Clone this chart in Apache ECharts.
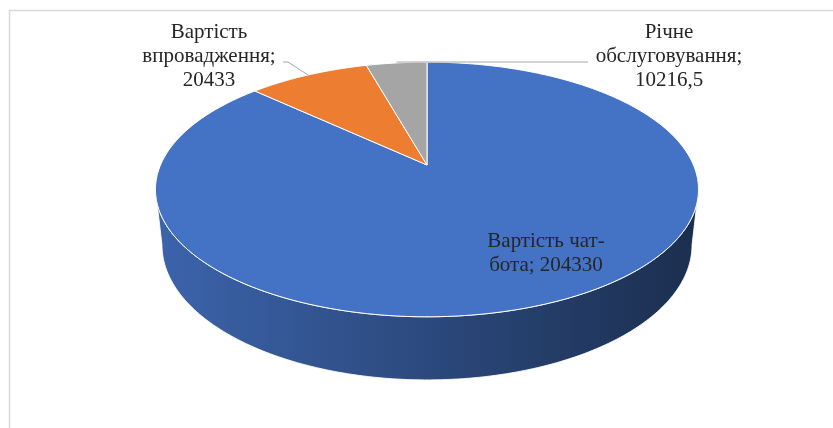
<!DOCTYPE html>
<html><head><meta charset="utf-8">
<script src="https://cdn.jsdelivr.net/npm/echarts@6/dist/echarts.min.js"></script>
<style>html,body{margin:0;padding:0;background:#fff}#c{width:833px;height:428px}</style>
</head><body><div id="c"></div><script>
// ---- data ----
const categories = ['Вартість чат-\nбота', 'Вартість\nвпровадження', 'Річне\nобслуговування'];
const separators = [' ', '\n', '\n'];
const values = [204330, 20433, 10216.5];
const colors = ['#4472c4', '#ed7d31', '#a5a5a5'];

// ---- layout (3D perspective of a cylinder) ----
const CX = 427, CY = 165, F = 1231, D = 4.62, PHI = 27.4 * Math.PI / 180, H = 0.237;
function projXZ(X, Z, y) {
  const yc = y * Math.cos(PHI) + Z * Math.sin(PHI);
  const zc = D + Z * Math.cos(PHI) - y * Math.sin(PHI);
  return [CX + F * X / zc, CY - F * yc / zc];
}
function proj(deg, y) {
  const t = deg * Math.PI / 180;
  return projXZ(Math.sin(t), Math.cos(t), y);
}
const silTop = 180 - Math.acos(Math.cos(PHI) / D) * 180 / Math.PI; // ~101
const silBot = 180 - Math.acos(Math.cos(PHI) / (D + H * Math.sin(PHI))) * 180 / Math.PI;
const labelLayout = [
  { x: 546, y: 253, elbow: null },
  { x: 209, y: 56, elbow: [[288, 62], [283, 62]] },
  { x: 669, y: 56, elbow: [[588, 62]] }
];

const total = values.reduce((a, b) => a + b, 0);
const starts = [];
values.reduce((acc, v) => { starts.push(acc); return acc + v; }, 0);

function shade(hex, f) {
  const n = parseInt(hex.slice(1), 16);
  const r = Math.round(((n >> 16) & 255) * f), g = Math.round(((n >> 8) & 255) * f), b = Math.round((n & 255) * f);
  return 'rgb(' + r + ',' + g + ',' + b + ')';
}
function fmt(v) { return String(v).replace('.', ','); }
function arc(a0, a1, y) {
  const pts = [];
  const n = Math.max(2, Math.ceil(Math.abs(a1 - a0) / 1));
  for (let k = 0; k <= n; k++) pts.push(proj(a0 + (a1 - a0) * k / n, y));
  return pts;
}

const chart = echarts.init(document.getElementById('c'), null, { renderer: 'canvas' });
chart.setOption({
  animation: false,
  backgroundColor: '#fff',
  graphic: [{
    type: 'rect', shape: { x: 9.5, y: 10.5, width: 900, height: 500 },
    style: { fill: 'none', stroke: '#d9d9d9', lineWidth: 1.5 }, z: -10, silent: true
  }],
  series: [{
    type: 'custom',
    coordinateSystem: 'none',
    data: values.map((v, i) => ({ name: categories[i], value: v })),
    renderItem: function (params, api) {
      const i = params.dataIndex;
      const v = api.value(0);
      const a0 = starts[i] / total * 360, a1 = (starts[i] + v) / total * 360;
      const children = [];
      // side wall (front visible part)
      const w0 = Math.max(a0, silTop), w1 = Math.min(a1, 360 - silTop);
      if (w1 > w0) {
        const b0 = Math.max(a0, silBot), b1 = Math.min(a1, 360 - silBot);
        const pts = arc(w0, w1, 0).concat(arc(b1, b0, -H));
        children.push({
          type: 'polygon', z2: 1,
          shape: { points: pts },
          style: {
            fill: {
              type: 'linear', x: CX - 272, y: 0, x2: CX + 272, y2: 0, global: true,
              colorStops: [{ offset: 0, color: shade(colors[i], 0.88) }, { offset: 1, color: shade(colors[i], 0.4) }]
            },
            stroke: 'rgba(255,255,255,0.85)', lineWidth: 1
          }
        });
      }
      // top face
      const topPts = [[CX, CY]].concat(arc(a0, a1, 0));
      children.push({
        type: 'polygon', z2: 5,
        shape: { points: topPts },
        style: { fill: colors[i], stroke: '#ffffff', lineWidth: 1, lineJoin: 'round' }
      });
      // label
      const L = labelLayout[i];
      children.push({
        type: 'text', z2: 10,
        x: L.x, y: L.y,
        style: {
          text: categories[i] + ';' + separators[i] + fmt(v),
          fontFamily: 'Liberation Serif', fontSize: 21, lineHeight: 24,
          fill: '#262626', align: 'center', verticalAlign: 'middle'
        }
      });
      if (L.elbow) {
        const m = proj((a0 + a1) / 2, 0);
        const pts = [m].concat(L.elbow);
        if (L.elbow.length === 1) pts[0] = [m[0], L.elbow[0][1]];
        children.push({
          type: 'polyline', z2: 9,
          shape: { points: pts },
          style: { stroke: '#a6a6a6', lineWidth: 1, fill: 'none' }
        });
      }
      return { type: 'group', children: children };
    }
  }]
});
</script></body></html>
